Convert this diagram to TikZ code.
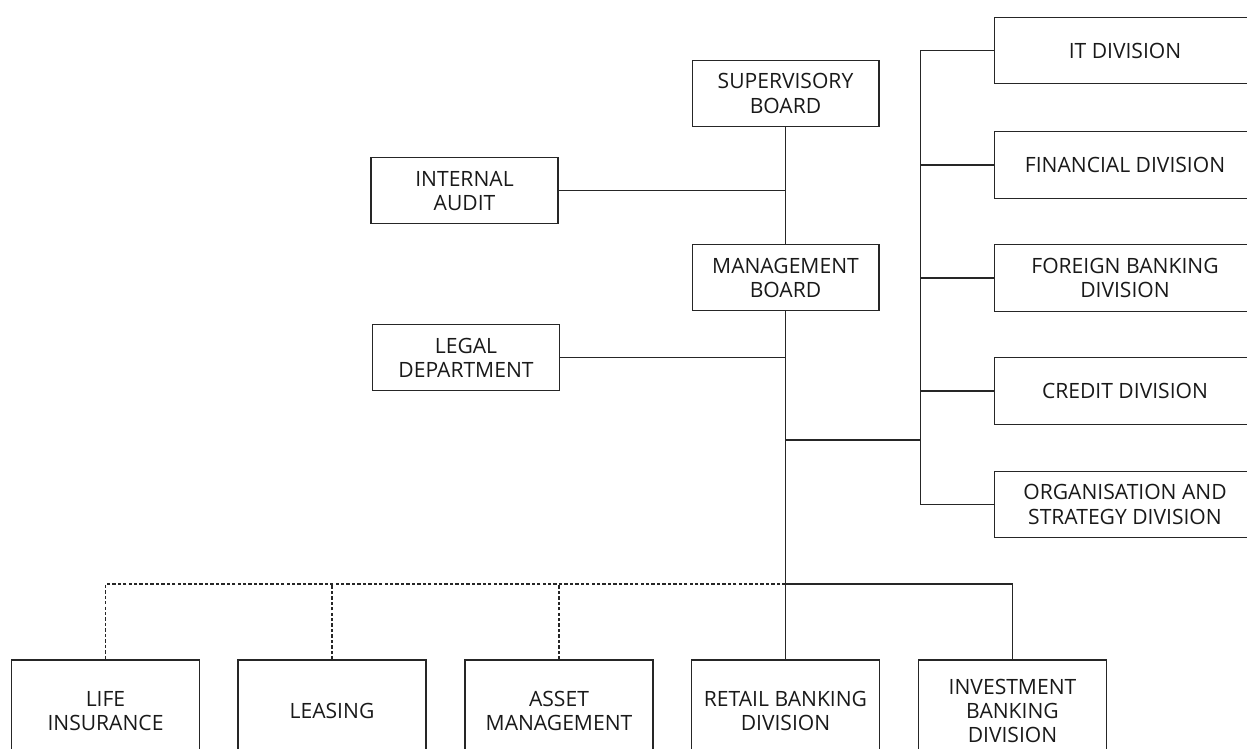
\documentclass[tikz,border=0pt]{standalone}
\usepackage{fontspec}
\setmainfont{Open Sans}
\usepackage{tikz}
\usetikzlibrary{positioning}

\begin{document}
\begin{tikzpicture}[
      x=0.02cm,y=-0.02cm,
      unit/.style={draw=black!85,line width=0.6pt,minimum width=3.74cm,minimum height=1.33cm,align=center,inner sep=2pt,
        font=\fontsize{12}{13.8}\selectfont,text=black!90},
      division/.style={unit,minimum width=5.24cm},
      company/.style={unit,minimum width=3.76cm,minimum height=2.04cm},
      link/.style={draw=black!85,line width=0.6pt},
      sublink/.style={link,dash pattern=on 1.9pt off 1.2pt}
    ]
      \useasboundingbox (0,0) rectangle (1247,749);
      \clip (0,0) rectangle (1247,749);
      % board and staff units
      \node[unit] (super) at (785.5,93.5) {SUPERVISORY\\BOARD};
      \node[unit] (mgmt) at (785.5,277.7) {MANAGEMENT\\BOARD};
      \node[unit] (audit) at (464.5,190.7) {INTERNAL\\AUDIT};
      \node[unit] (legal) at (466,357.5) {LEGAL\\DEPARTMENT};
      % divisions on the right
      \node[division] (it) at (1125,50.5) {IT DIVISION};
      \node[division] (fin) at (1125,165) {FINANCIAL DIVISION};
      \node[division] (foreign) at (1125,278) {FOREIGN BANKING\\DIVISION};
      \node[division] (credit) at (1125,391) {CREDIT DIVISION};
      \node[division] (org) at (1125,504.5) {ORGANISATION AND\\STRATEGY DIVISION};
      % lower row
      \node[company] (life) at (105.5,711) {LIFE\\INSURANCE};
      \node[company] (leasing) at (332,711) {LEASING};
      \node[company] (asset) at (559,711) {ASSET\\MANAGEMENT};
      \node[company] (retail) at (785.5,711) {RETAIL BANKING\\DIVISION};
      \node[company] (invest) at (1012.5,711) {INVESTMENT\\BANKING\\DIVISION};
      \coordinate (trunk) at (920.7,440);
      \coordinate (bar) at (785.5,584);
      % connectors
      \draw[link] (super) -- (mgmt);
      \draw[link] (audit) -- (audit -| super);
      \draw[link] (legal) -- (legal -| mgmt);
      \draw[link] (mgmt) -- (retail);
      \draw[link] (mgmt |- trunk) -- (trunk);
      \draw[link] (it.west) -- (it.west -| trunk) -- (org.west -| trunk) -- (org.west);
      \draw[link] (fin.west) -- (fin.west -| trunk);
      \draw[link] (foreign.west) -- (foreign.west -| trunk);
      \draw[link] (credit.west) -- (credit.west -| trunk);
      \draw[link] (bar) -| (invest.north);
      \draw[sublink] (bar) -| (life.north);
      \draw[sublink] (leasing.north) -- (leasing.north |- bar);
      \draw[sublink] (asset.north) -- (asset.north |- bar);
    \end{tikzpicture}
\end{document}
